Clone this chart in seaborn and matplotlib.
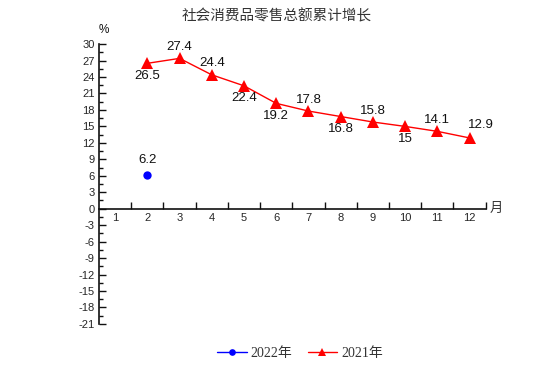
import numpy as np
import pandas as pd
import seaborn as sns
import matplotlib.pyplot as plt
from matplotlib.ticker import MultipleLocator, FixedLocator

sns.set_theme(style="white")
plt.rcParams['font.family'] = ['Liberation Sans', 'Noto Sans CJK SC', 'DejaVu Sans']

# data
months_2022 = [2]
values_2022 = [6.2]
months_2021 = [2, 3, 4, 5, 6, 7, 8, 9, 10, 11, 12]
values_2021 = [26.5, 27.4, 24.4, 22.4, 19.2, 17.8, 16.8, 15.8, 15, 14.1, 12.9]
# label placement: 1 above, -1 below
label_side_2021 = [-1, 1, 1, -1, -1, 1, -1, 1, -1, 1, 1]
x_labels = [str(m) for m in range(1, 13)]
y_ticks = list(range(-21, 31, 3))

df22 = pd.DataFrame({"month": months_2022, "value": values_2022})
df21 = pd.DataFrame({"month": months_2021, "value": values_2021})

fig = plt.figure(figsize=(5.54, 3.87), dpi=100)
ax = fig.add_axes([0.1787, 0.163, 0.698, 0.723])

sns.lineplot(data=df22, x="month", y="value", ax=ax, color="#0000ff",
             marker="o", markersize=6, markeredgewidth=0, linewidth=1,
             label="2022年")
sns.lineplot(data=df21, x="month", y="value", ax=ax, color="#ff0000",
             marker="^", markersize=8, markeredgewidth=0, linewidth=1,
             label="2021年")

lab_font = dict(fontsize=9.5, color="#111111", ha="center")
for m, v in zip(months_2022, values_2022):
    ax.text(m, v + 1.6, f"{v:g}", va="bottom", **lab_font)
for m, v, s in zip(months_2021, values_2021, label_side_2021):
    if m == 12:
        ax.text(m + 0.35, v + 1.2, f"{v:g}", va="bottom", **lab_font)
    elif s > 0:
        ax.text(m, v + 1.0, f"{v:g}", va="bottom", **lab_font)
    else:
        ax.text(m, v - 1.2, f"{v:g}", va="top", **lab_font)

ax.set_xlim(0.5, 12.5)
ax.set_ylim(-21, 30)
ax.set_xlabel("")
ax.set_ylabel("")

# axes styling
for side in ["top", "right"]:
    ax.spines[side].set_visible(False)
ax.spines["left"].set_color("#111111")
ax.spines["left"].set_linewidth(1.2)
ax.spines["bottom"].set_position(("data", 0))
ax.spines["bottom"].set_color("#111111")
ax.spines["bottom"].set_linewidth(1.2)

ax.set_yticks(y_ticks)
ax.set_yticklabels([str(t) for t in y_ticks])
ax.yaxis.set_minor_locator(MultipleLocator(1.5))
ax.tick_params(axis="y", which="major", direction="in", length=5, width=1,
               color="#111111", labelsize=8, pad=3, left=True)
ax.tick_params(axis="y", which="minor", direction="in", length=3, width=1,
               color="#111111", left=True)

ax.set_xticks(range(1, 13))
ax.set_xticklabels(x_labels)
ax.xaxis.set_minor_locator(FixedLocator(np.arange(1.5, 13, 1)))
ax.tick_params(axis="x", which="major", length=0, labelsize=8, pad=3)
ax.tick_params(axis="x", which="minor", direction="in", length=5, width=1,
               color="#111111", bottom=True)

ax.text(0.013, 1.03, "%", transform=ax.transAxes, fontsize=8.5, ha="center",
        va="bottom", color="#111111")
ax.text(1.01, 0.412, "月", transform=ax.transAxes, fontsize=9.5, ha="left",
        va="center", color="#333333", family=["Noto Sans CJK SC"])

fig.text(0.5, 0.958, "社会消费品零售总额累计增长", ha="center", va="center",
         fontsize=10.5, color="#333333", family=["Noto Sans CJK SC"])

leg = ax.legend(loc="center", bbox_to_anchor=(0.52, -0.105), ncol=2,
                frameon=False, handlelength=2.1, handletextpad=0.3,
                columnspacing=1.1, markerscale=0.8,
                prop={"family": ["Liberation Serif", "Noto Sans CJK SC"], "size": 10})
for t in leg.get_texts():
    t.set_color("#333333")

fig.savefig("out.png", dpi=100)
